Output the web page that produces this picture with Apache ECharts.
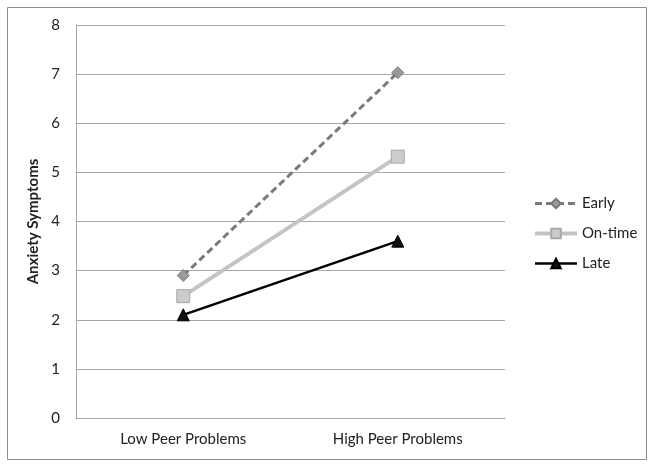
<!DOCTYPE html>
<html><head><meta charset="utf-8">
<script src="https://cdn.jsdelivr.net/npm/echarts@6/dist/echarts.min.js"></script>
<style>html,body{margin:0;padding:0;background:#fff}#c{width:654px;height:467px}</style>
</head><body><div id="c"></div>
<script>
const categories = ['Low Peer Problems', 'High Peer Problems'];
const early = [2.9, 7.03];
const onTime = [2.48, 5.32];
const late = [2.1, 3.6];
const yTicks = [0, 1, 2, 3, 4, 5, 6, 7, 8];

const chart = echarts.init(document.getElementById('c'));
const font = 'Lato, "Open Sans", sans-serif';
chart.setOption({
  animation: false,
  textStyle: { fontFamily: font },
  graphic: [{ type: 'rect', shape: { x: 7.5, y: 7.5, width: 639, height: 452 }, style: { fill: 'none', stroke: '#8c8c8c', lineWidth: 1 } }],
  grid: { left: 76, top: 25, width: 429, height: 393, containLabel: false },
  legend: {
    orient: 'vertical', left: 528, top: 191, itemWidth: 42, itemHeight: 12, itemGap: 15,
    textStyle: { fontSize: 15, color: '#222', fontFamily: font },
    data: [
      { name: 'Early', lineStyle: { width: 3 } },
      { name: 'On-time', lineStyle: { width: 4 } },
      { name: 'Late', lineStyle: { width: 2.5 } }
    ]
  },
  xAxis: {
    type: 'category', data: categories, boundaryGap: true,
    axisLine: { lineStyle: { color: '#a6a6a6', width: 1 } },
    axisTick: { show: false },
    axisLabel: { color: '#222', fontSize: 15, margin: 14, fontFamily: font }
  },
  yAxis: {
    type: 'value', min: yTicks[0], max: yTicks[yTicks.length - 1], interval: 1,
    name: 'Anxiety Symptoms', nameLocation: 'middle', nameGap: 31,
    nameTextStyle: { fontWeight: 'bold', fontSize: 15, color: '#222', fontFamily: font },
    axisLine: { show: true, lineStyle: { color: '#a6a6a6', width: 1 } },
    axisTick: { show: false },
    splitLine: { lineStyle: { color: '#a6a6a6', width: 1 } },
    axisLabel: { color: '#222', fontSize: 15, margin: 16, fontFamily: font }
  },
  series: [
    { name: 'Early', type: 'line', data: early, symbol: 'diamond', symbolSize: 12,
      lineStyle: { color: '#7a7a7a', width: 3, type: [7, 4] },
      itemStyle: { color: '#9a9a9a', borderColor: '#7a7a7a', borderWidth: 1 } },
    { name: 'On-time', type: 'line', data: onTime, symbol: 'rect', symbolSize: 13,
      lineStyle: { color: '#c4c4c4', width: 4 },
      itemStyle: { color: '#cccccc', borderColor: '#a8a8a8', borderWidth: 1 } },
    { name: 'Late', type: 'line', data: late, symbol: 'triangle', symbolSize: 12,
      lineStyle: { color: '#000', width: 2.5 },
      itemStyle: { color: '#111', borderColor: '#000', borderWidth: 1 } }
  ]
});
</script></body></html>
